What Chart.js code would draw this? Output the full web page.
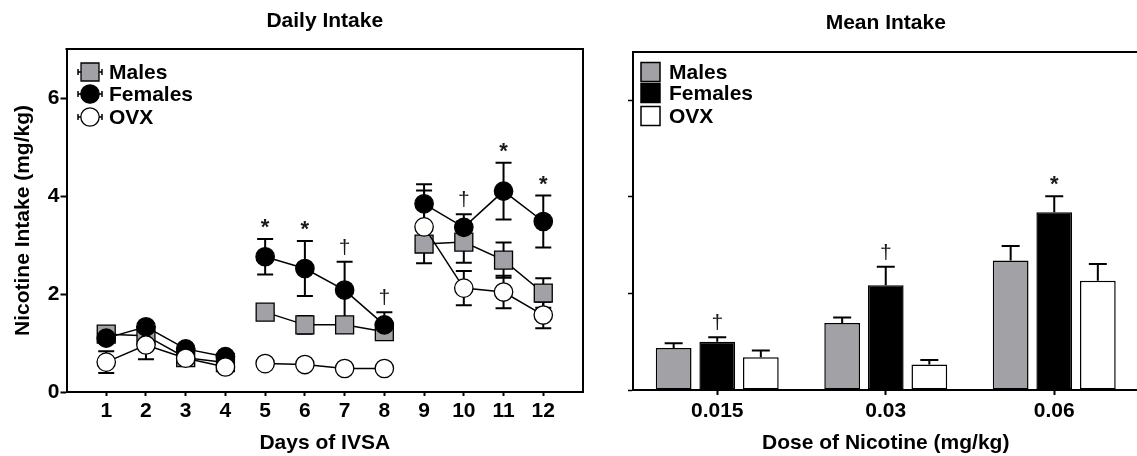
<!DOCTYPE html>
<html><head><meta charset="utf-8">
<script src="https://cdn.jsdelivr.net/npm/chart.js@4/dist/chart.umd.min.js"></script>
<style>
html,body{margin:0;padding:0;background:#fff;overflow:hidden;width:1137px;height:456px;position:relative;}
#left{position:absolute;left:0;top:0;}
#right{position:absolute;left:600px;top:0;}
</style></head><body>
<canvas id="left" width="600" height="456"></canvas>
<canvas id="right" width="560" height="456"></canvas>
<script>
// ---------- Data: Daily Intake ----------
const days = [1, 2, 3, 4, 5, 6, 7, 8, 9, 10, 11, 12];
const dayDose = ['0.015','0.015','0.015','0.015','0.03','0.03','0.03','0.03','0.06','0.06','0.06','0.06'];
const malesDaily = [1.18, 1.15, 0.70, 0.60, 1.63, 1.37, 1.37, 1.23, 3.02, 3.06, 2.69, 2.02];
const malesDailySem = [0.08, 0.08, 0.05, 0.05, 0.08, 0.18, 0.15, 0.12, 0.15, 0.42, 0.36, 0.30];
const femalesDaily = [1.10, 1.33, 0.88, 0.72, 2.76, 2.52, 2.08, 1.37, 3.84, 3.36, 4.10, 3.48];
const femalesDailySem = [0.08, 0.08, 0.06, 0.05, 0.36, 0.56, 0.58, 0.26, 0.40, 0.27, 0.58, 0.53];
const ovxDaily = [0.61, 0.96, 0.69, 0.51, 0.58, 0.56, 0.48, 0.48, 3.37, 2.12, 2.04, 1.57];
const ovxDailySem = [0.22, 0.29, 0.05, 0.04, 0.04, 0.04, 0.04, 0.04, 0.74, 0.35, 0.33, 0.27];
const dailyMarks = ['', '', '', '', '*', '*', '\u2020', '\u2020', '', '\u2020', '*', '*'];
const yTicks = [0, 2, 4, 6];

// ---------- Data: Mean Intake ----------
const doses = ['0.015', '0.03', '0.06'];
const malesMean = [0.87, 1.39, 2.68];
const malesMeanSem = [0.10, 0.11, 0.30];
const femalesMean = [1.00, 2.17, 3.68];
const femalesMeanSem = [0.09, 0.38, 0.33];
const ovxMean = [0.68, 0.53, 2.26];
const ovxMeanSem = [0.14, 0.09, 0.35];
const meanMarks = ['\u2020', '\u2020', '*'];

const seriesNames = ['Males', 'Females', 'OVX'];
const GREY = '#a2a2a6';
const FONT = 'Liberation Sans, Arial, sans-serif';
const FS = 21;

Chart.defaults.font.family = FONT;
Chart.defaults.color = '#000';

function drawMarkerShape(ctx, style, x, y, r, fill) {
  ctx.save();
  ctx.fillStyle = fill; ctx.strokeStyle = '#000'; ctx.lineWidth = 1.3;
  ctx.beginPath();
  if (style === 'rect') { const s = r * Math.SQRT1_2; ctx.rect(x - s, y - s, 2 * s, 2 * s); }
  else ctx.arc(x, y, r, 0, Math.PI * 2);
  ctx.fill(); ctx.stroke();
  ctx.restore();
}

function drawMark(ctx, txt, x, capY) {
  if (!txt) return;
  ctx.save();
  ctx.fillStyle = '#1a1a1a';
  ctx.textAlign = 'center';
  ctx.textBaseline = 'alphabetic';
  if (txt === '*') { ctx.font = 'bold 22px ' + FONT; ctx.fillText(txt, x, capY - 5); }
  else { ctx.font = '21px ' + FONT; ctx.fillText(txt, x, capY - 8); }
  ctx.restore();
}

const framePlugin = {
  id: 'frame',
  afterDraw(chart, args, opts) {
    const {ctx, chartArea: a} = chart;
    ctx.save();
    ctx.strokeStyle = '#000'; ctx.lineWidth = 2;
    ctx.beginPath();
    ctx.moveTo(a.left - 1, a.top); ctx.lineTo(a.right, a.top); ctx.lineTo(a.right, a.bottom + 1);
    ctx.stroke();
    ctx.font = 'bold ' + FS + 'px ' + FONT;
    ctx.fillStyle = '#000'; ctx.textAlign = 'center'; ctx.textBaseline = 'middle';
    ctx.fillText(opts.title, (a.left + a.right) / 2, opts.titleY);
    ctx.restore();
  }
};

// ---------- Left: line chart ----------
const dailyStyles = [
  {mean: malesDaily, sem: malesDailySem, style: 'rect', r: 12.7, fill: GREY, order: 2},
  {mean: femalesDaily, sem: femalesDailySem, style: 'circle', r: 9.2, fill: '#000', order: 1},
  {mean: ovxDaily, sem: ovxDailySem, style: 'circle', r: 9.2, fill: '#fff', order: 0}
];

const errLinePlugin = {
  id: 'errLine',
  beforeDatasetsDraw(chart) {
    const {ctx, scales: {x, y}} = chart;
    ctx.save();
    ctx.strokeStyle = '#000'; ctx.lineWidth = 2;
    dailyStyles.forEach(s => {
      days.forEach((d, i) => {
        const px = x.getPixelForValue(d);
        const y1 = y.getPixelForValue(s.mean[i] + s.sem[i]);
        const y2 = y.getPixelForValue(s.mean[i] - s.sem[i]);
        ctx.beginPath();
        ctx.moveTo(px, y1); ctx.lineTo(px, y2);
        ctx.moveTo(px - 8, y1); ctx.lineTo(px + 8, y1);
        ctx.moveTo(px - 8, y2); ctx.lineTo(px + 8, y2);
        ctx.stroke();
      });
    });
    ctx.restore();
  },
  afterDraw(chart) {
    const {ctx, scales: {x, y}} = chart;
    days.forEach((d, i) => {
      drawMark(ctx, dailyMarks[i], x.getPixelForValue(d), y.getPixelForValue(femalesDaily[i] + femalesDailySem[i]));
    });
    const rows = [72, 94, 117];
    ctx.save();
    dailyStyles.forEach((s, k) => {
      const yy = rows[k];
      ctx.strokeStyle = '#000'; ctx.lineWidth = 1.5;
      ctx.beginPath(); ctx.moveTo(78, yy); ctx.lineTo(102, yy); ctx.stroke();
      ctx.beginPath(); ctx.moveTo(78, yy - 3); ctx.lineTo(78, yy + 3); ctx.moveTo(102, yy - 3); ctx.lineTo(102, yy + 3); ctx.stroke();
      drawMarkerShape(ctx, s.style, 90, yy, s.r, s.fill);
      ctx.font = 'bold ' + FS + 'px ' + FONT; ctx.fillStyle = '#000';
      ctx.textAlign = 'left'; ctx.textBaseline = 'middle';
      ctx.fillText(seriesNames[k], 109, yy + 1);
    });
    ctx.restore();
  }
};

new Chart(document.getElementById('left'), {
  type: 'line',
  data: {
    datasets: dailyStyles.map((s, k) => ({
      label: seriesNames[k],
      data: days.map((d, i) => ({x: d, y: s.mean[i]})),
      order: s.order,
      borderColor: '#000',
      borderWidth: 1.5,
      backgroundColor: s.fill,
      pointStyle: s.style,
      pointRadius: s.r,
      pointBackgroundColor: s.fill,
      pointBorderColor: '#000',
      pointBorderWidth: 1.3,
      tension: 0,
      clip: false,
      segment: {
        borderColor: c => dayDose[c.p0DataIndex] !== dayDose[c.p1DataIndex] ? 'rgba(0,0,0,0)' : '#000'
      }
    }))
  },
  options: {
    responsive: false, animation: false, events: [],
    layout: {padding: {top: 49, right: 17, left: 0, bottom: 0}},
    plugins: {legend: {display: false}, tooltip: {enabled: false}, frame: {title: 'Daily Intake', titleY: 21}},
    scales: {
      x: {
        type: 'linear', min: 0, max: 13,
        afterBuildTicks: s => { s.ticks = days.map(v => ({value: v})); },
        afterFit: s => { s.height = 64; },
        ticks: {font: {size: FS, weight: 'bold'}, padding: 3, maxRotation: 0, autoSkip: false, callback: v => String(v)},
        grid: {display: true, drawOnChartArea: false, drawTicks: true, tickLength: 4, tickWidth: 2, tickColor: '#000'},
        border: {display: true, width: 2, color: '#000'},
        title: {display: true, text: 'Days of IVSA', font: {size: FS, weight: 'bold'}, padding: {top: 0, bottom: 0}}
      },
      y: {
        min: 0, max: 7,
        afterBuildTicks: s => { s.ticks = yTicks.map(v => ({value: v})); },
        afterFit: s => { s.width = 66.5; },
        ticks: {font: {size: FS, weight: 'bold'}, padding: 1, callback: v => String(v)},
        grid: {display: true, drawOnChartArea: false, drawTicks: true, tickLength: 6, tickWidth: 2, tickColor: '#000'},
        border: {display: true, width: 2, color: '#000'},
        title: {display: true, text: 'Nicotine Intake (mg/kg)', font: {size: FS, weight: 'bold'}, padding: {top: 11, bottom: 0}}
      }
    }
  },
  plugins: [framePlugin, errLinePlugin]
});

// ---------- Right: bar chart ----------
const meanSeries = [
  {mean: malesMean, sem: malesMeanSem, fill: GREY},
  {mean: femalesMean, sem: femalesMeanSem, fill: '#000'},
  {mean: ovxMean, sem: ovxMeanSem, fill: '#fff'}
];

const errBarPlugin = {
  id: 'errBar',
  afterDatasetsDraw(chart) {
    const {ctx, scales: {y}} = chart;
    ctx.save();
    ctx.strokeStyle = '#000'; ctx.lineWidth = 2;
    meanSeries.forEach((s, d) => {
      const meta = chart.getDatasetMeta(d);
      meta.data.forEach((bar, i) => {
        const ty = y.getPixelForValue(s.mean[i] + s.sem[i]);
        ctx.beginPath();
        ctx.moveTo(bar.x, bar.y); ctx.lineTo(bar.x, ty);
        ctx.moveTo(bar.x - 9, ty); ctx.lineTo(bar.x + 9, ty);
        ctx.stroke();
        if (d === 1) drawMark(ctx, meanMarks[i], bar.x, ty);
      });
    });
    const rows = [72, 93, 116];
    meanSeries.forEach((s, k) => {
      const yy = rows[k];
      ctx.fillStyle = s.fill; ctx.strokeStyle = '#000'; ctx.lineWidth = 1.5;
      ctx.fillRect(41, yy - 9.5, 19, 19); ctx.strokeRect(41, yy - 9.5, 19, 19);
      ctx.font = 'bold ' + FS + 'px ' + FONT; ctx.fillStyle = '#000';
      ctx.textAlign = 'left'; ctx.textBaseline = 'middle';
      ctx.fillText(seriesNames[k], 69, yy + 1);
    });
    ctx.restore();
  }
};

new Chart(document.getElementById('right'), {
  type: 'bar',
  data: {
    labels: doses,
    datasets: meanSeries.map((s, k) => ({
      label: seriesNames[k],
      data: s.mean,
      backgroundColor: s.fill,
      borderColor: '#000',
      borderWidth: 1.5,
      borderSkipped: false,
      categoryPercentage: 0.776,
      barPercentage: 0.82
    }))
  },
  options: {
    responsive: false, animation: false, events: [],
    layout: {padding: {top: 52, right: 21.5, left: 0, bottom: 0}},
    plugins: {legend: {display: false}, tooltip: {enabled: false}, frame: {title: 'Mean Intake', titleY: 23}},
    scales: {
      x: {
        afterFit: s => { s.height = 66; },
        ticks: {font: {size: FS, weight: 'bold'}, padding: 4, maxRotation: 0},
        grid: {display: true, offset: false, drawOnChartArea: false, drawTicks: true, tickLength: 5, tickWidth: 2, tickColor: '#000'},
        border: {display: true, width: 2, color: '#000'},
        title: {display: true, text: 'Dose of Nicotine (mg/kg)', font: {size: FS, weight: 'bold'}, padding: {top: 0, bottom: 0}}
      },
      y: {
        min: 0, max: 7,
        afterBuildTicks: s => { s.ticks = yTicks.map(v => ({value: v})); },
        afterFit: s => { s.width = 33; },
        ticks: {display: false},
        grid: {display: true, drawOnChartArea: false, drawTicks: true, tickLength: 5, tickWidth: 1.5, tickColor: '#000'},
        border: {display: true, width: 2, color: '#000'}
      }
    }
  },
  plugins: [framePlugin, errBarPlugin]
});
</script>
</body></html>
